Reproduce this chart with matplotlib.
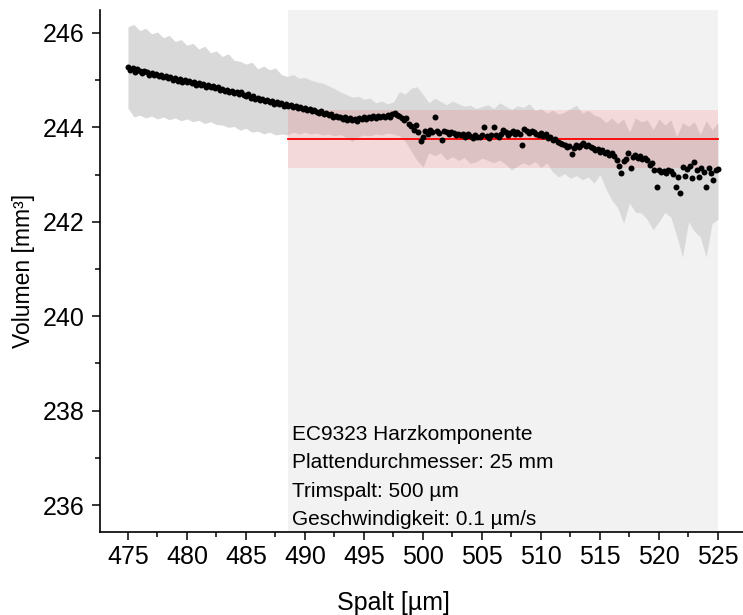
import numpy as np
import matplotlib.pyplot as plt
from matplotlib.ticker import MultipleLocator

plt.rcParams['font.family'] = ['Liberation Sans', 'DejaVu Sans']

# Messpunkte: Spalt 475..525 µm in 0.2er Schritten
spalt = np.round(np.arange(475.0, 525.01, 0.2), 1)
volumen = [
    245.27, 245.22, 245.25, 245.18, 245.24,
    245.20, 245.15, 245.19, 245.17, 245.12,
    245.16, 245.10, 245.13, 245.09, 245.12,
    245.06, 245.09, 245.04, 245.07, 245.01,
    245.04, 244.99, 245.02, 244.97, 245.00,
    244.96, 244.99, 244.93, 244.96, 244.90,
    244.94, 244.89, 244.92, 244.86, 244.90,
    244.85, 244.88, 244.83, 244.86, 244.80,
    244.82, 244.77, 244.80, 244.74, 244.78,
    244.73, 244.76, 244.70, 244.74, 244.68,
    244.66, 244.70, 244.63, 244.66, 244.60,
    244.62, 244.57, 244.60, 244.55, 244.58,
    244.53, 244.56, 244.50, 244.54, 244.49,
    244.51, 244.46, 244.49, 244.45, 244.48,
    244.43, 244.46, 244.41, 244.44, 244.40,
    244.42, 244.37, 244.40, 244.34, 244.36,
    244.33, 244.30, 244.34, 244.28, 244.30,
    244.26, 244.29, 244.23, 244.25, 244.21,
    244.22, 244.18, 244.21, 244.16, 244.19,
    244.15, 244.18, 244.14, 244.19, 244.17,
    244.21, 244.17, 244.22, 244.19, 244.24,
    244.20, 244.24, 244.21, 244.25, 244.22,
    244.26, 244.23, 244.28, 244.30, 244.26,
    244.24, 244.19, 244.15, 244.20, 244.08,
    244.02, 243.95, 244.05, 243.90, 243.71,
    243.80, 243.92, 243.86, 243.95, 243.90,
    244.22, 243.92, 243.88, 243.73, 243.93,
    243.90, 243.86, 243.91, 243.88, 243.84,
    243.87, 243.83, 243.86, 243.80, 243.85,
    243.82, 243.78, 243.83, 243.80, 243.79,
    243.84, 244.00, 243.82, 243.78, 243.83,
    244.00, 243.84, 243.80, 243.87, 243.95,
    243.90, 243.84, 243.88, 243.92, 243.86,
    243.90, 243.86, 243.63, 243.97, 243.92,
    243.88, 243.93, 243.90, 243.86, 243.84,
    243.88, 243.82, 243.86, 243.78, 243.80,
    243.73, 243.76, 243.70, 243.67, 243.64,
    243.62, 243.58, 243.60, 243.44, 243.56,
    243.62, 243.58, 243.63, 243.67, 243.60,
    243.62, 243.58, 243.56, 243.52, 243.55,
    243.48, 243.52, 243.45, 243.47, 243.42,
    243.45, 243.40, 243.30, 243.18, 243.03,
    243.28, 243.32, 243.46, 243.14, 243.38,
    243.42, 243.36, 243.40, 243.32, 243.35,
    243.30, 243.20, 243.25, 243.10, 242.74,
    243.10, 243.06, 243.08, 243.04, 243.09,
    243.07, 243.02, 242.74, 242.95, 242.61,
    243.16, 242.97, 243.12, 243.18, 242.93,
    243.27, 243.10, 242.95, 243.14, 243.05,
    242.74, 243.14, 243.03, 242.88, 243.09,
    243.12,
]

# Streuband (0.5er Schritte)
band_x = np.round(np.arange(475.0, 525.01, 0.5), 1)
band_oben = [
    246.13, 246.18, 246.05, 246.10, 245.98, 246.02, 245.90, 245.95, 245.82, 245.86,
    245.74, 245.78, 245.66, 245.72, 245.58, 245.62, 245.50, 245.56, 245.42, 245.40,
    245.34, 245.38, 245.24, 245.30, 245.22, 245.26, 245.12, 245.08, 245.12, 245.04,
    245.06, 245.00, 244.96, 244.94, 244.88, 244.82, 244.75, 244.70, 244.64, 244.66,
    244.60, 244.62, 244.52, 244.56, 244.50, 244.54, 244.76, 244.70, 244.83, 244.86,
    244.70, 244.52, 244.62, 244.55, 244.48, 244.56, 244.50, 244.45, 244.47, 244.40,
    244.44, 244.48, 244.40, 244.52, 244.45, 244.38, 244.46, 244.42, 244.50, 244.36,
    244.40, 244.30, 244.36, 244.28, 244.32, 244.40, 244.47, 244.30, 244.36, 244.26,
    244.22, 244.10, 244.20, 244.08, 244.18, 243.90, 244.20, 244.12, 244.16, 243.95,
    244.18, 244.05, 244.16, 243.80, 244.10, 244.02, 244.12, 243.85, 244.14, 243.95,
    244.10,
]
band_unten = [
    244.41, 244.22, 244.26, 244.20, 244.24, 244.18, 244.22, 244.16, 244.20, 244.14,
    244.18, 244.12, 244.15, 244.08, 244.12, 244.06, 244.05, 244.00, 244.02, 243.94,
    243.98, 243.90, 243.92, 243.86, 243.90, 243.84, 243.86, 243.84, 243.90, 243.86,
    243.90, 243.86, 243.88, 243.84, 243.86, 243.82, 243.85, 243.78, 243.70, 243.80,
    243.84, 243.82, 243.86, 243.84, 243.88, 243.86, 243.82, 243.70, 243.50, 243.30,
    243.16, 243.46, 243.40, 243.46, 243.31, 243.38, 243.30, 243.36, 243.24, 243.27,
    243.35, 243.30, 243.25, 243.31, 243.22, 243.10, 243.18, 243.25, 243.20, 243.28,
    243.15, 243.25, 243.05, 242.95, 243.02, 242.92, 242.98, 242.89, 242.95, 242.82,
    243.00, 242.70, 242.46, 242.30, 241.97, 242.40, 242.20, 242.19, 242.05, 241.83,
    242.00, 242.20, 242.10, 241.70, 241.25, 242.00, 241.80, 241.68, 241.25, 241.97,
    242.05,
]

# Auswertebereich und Mittelwert
bereich = (488.6, 525.0)
mittel = 243.75
mittel_std = (243.14, 244.37)

info_zeilen = [
    'EC9323 Harzkomponente',
    'Plattendurchmesser: 25 mm',
    'Trimspalt: 500 µm',
    'Geschwindigkeit: 0.1 µm/s',
]

fig = plt.figure(figsize=(7.43, 6.15), dpi=100)
ax = fig.add_axes([0.1346, 0.135, 0.8654, 0.849])

ax.axvspan(bereich[0], bereich[1], color='#f2f2f2', zorder=0, lw=0)
ax.fill_between(band_x, band_unten, band_oben, color='#d9d9d9', lw=0, zorder=1)
ax.fill_between(bereich, mittel_std[0], mittel_std[1], color='red', alpha=0.1, lw=0, zorder=2)
ax.plot(bereich, [mittel, mittel], color='red', lw=1.3, zorder=3)
ax.plot(spalt, volumen, 'o', color='black', markersize=4.3, markeredgewidth=0, zorder=4)

# Infotext zeilenweise (Grundlinien)
for i, zeile in enumerate(info_zeilen):
    ax.text(488.9, 237.38 - i * 0.6, zeile, fontsize=15, va='baseline', ha='left', zorder=5)

ax.set_xlim(472.63, 527.12)
ax.set_ylim(235.43, 246.49)
ax.xaxis.set_major_locator(MultipleLocator(5))
ax.xaxis.set_minor_locator(MultipleLocator(2.5))
ax.yaxis.set_major_locator(MultipleLocator(2))
ax.yaxis.set_minor_locator(MultipleLocator(1))

ax.spines['top'].set_visible(False)
ax.spines['right'].set_visible(False)
ax.spines['left'].set_linewidth(1.2)
ax.spines['bottom'].set_linewidth(1.2)
ax.tick_params(which='major', direction='out', length=6, width=1.1, labelsize=18)
ax.tick_params(axis='y', which='major', pad=5)
ax.tick_params(which='minor', direction='out', length=3.5, width=1.1)

ax.set_xlabel('Spalt [µm]', fontsize=18, labelpad=10)
ax.xaxis.set_label_coords((393 - 100) / 643, -0.113)
ax.set_ylabel('Volumen [mm³]', fontsize=16.5)
ax.yaxis.set_label_coords(-0.101, 0.5)

fig.savefig('out.png', dpi=100)
